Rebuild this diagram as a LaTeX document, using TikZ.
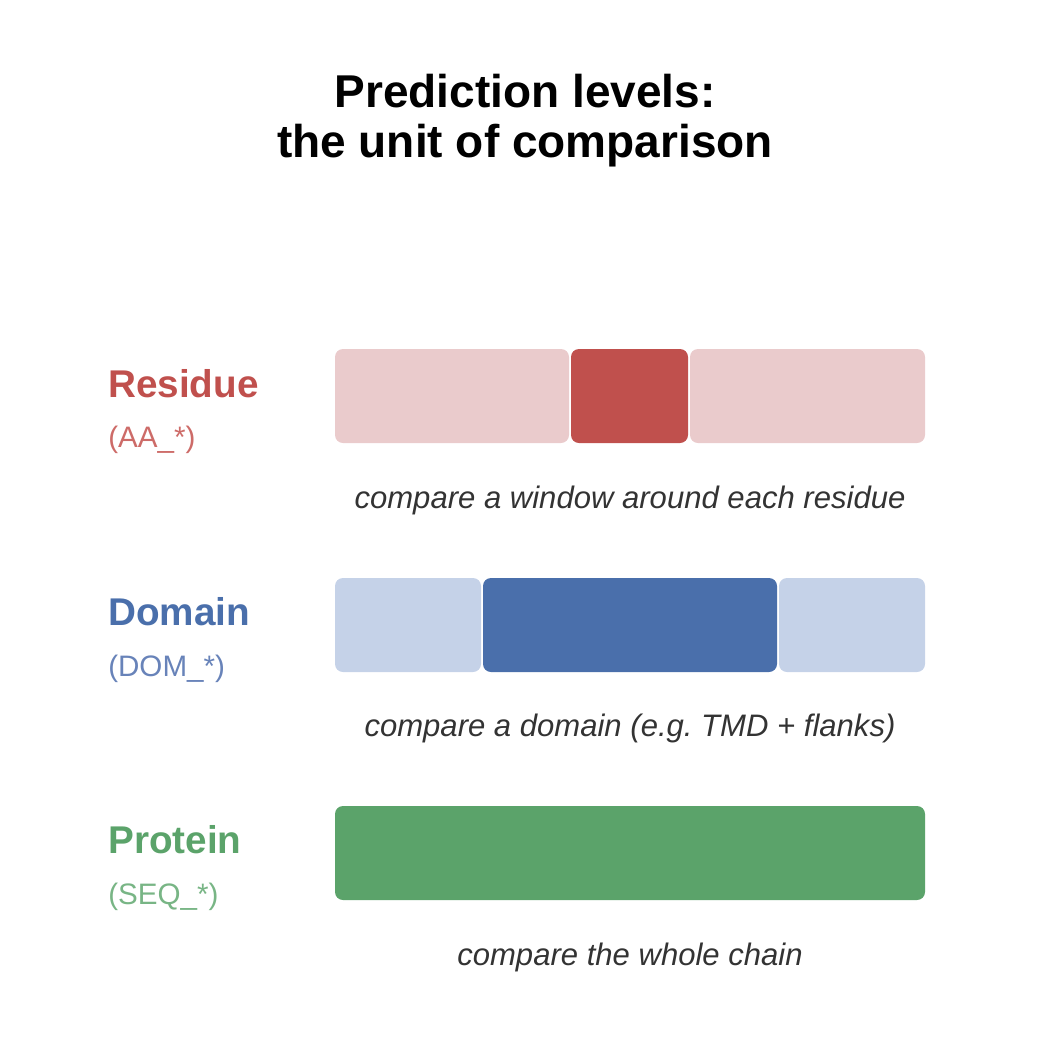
\documentclass[tikz,border=0pt]{standalone}
\usepackage{fontspec}
\setmainfont{Liberation Sans}
\usepackage{tikz}
\frenchspacing

\definecolor{resdark}{HTML}{C0504D}
\definecolor{reslight}{HTML}{EACBCC}
\definecolor{ressub}{HTML}{CD6B68}
\definecolor{domdark}{HTML}{4A6FAB}
\definecolor{domlight}{HTML}{C5D2E8}
\definecolor{domsub}{HTML}{6883B9}
\definecolor{seqdark}{HTML}{5BA36A}
\definecolor{seqsub}{HTML}{78B585}
\definecolor{captext}{HTML}{333333}

\tikzset{
  title/.style={font=\fontsize{34.5}{37.5}\selectfont\bfseries, align=center},
  level/.style={anchor=base west, inner sep=0pt, font=\fontsize{29}{34}\selectfont\bfseries},
  code/.style={anchor=base west, inner sep=0pt, font=\fontsize{22.2}{26}\selectfont},
  caption/.style={text=captext, font=\fontsize{23.3}{28}\selectfont\itshape},
  seg/.style={rounded corners=6pt}
}

\begin{document}
\begin{tikzpicture}[x=0.75pt,y=-0.75pt]
          \useasboundingbox (0,0) rectangle (1050,1050);
          \node[title] (head) at (525,121) {Prediction levels:\\the unit of comparison};
          % residue level
          \node[level, text=resdark] (resname) at (108,397) {Residue};
          \node[code, text=ressub] (rescode) at (108,447) {(AA\_*)};
          \fill[seg, reslight] (335,349) rectangle (569,443);
          \fill[seg, resdark] (571,349) rectangle (688,443);
          \fill[seg, reslight] (690,349) rectangle (925,443);
          \node[caption] (rescap) at (630,500) {compare a window around each residue};
          % domain level
          \node[level, text=domdark] (domname) at (108,625) {Domain};
          \node[code, text=domsub] (domcode) at (108,676) {(DOM\_*)};
          \fill[seg, domlight] (335,578) rectangle (481,672);
          \fill[seg, domdark] (483,578) rectangle (777,672);
          \fill[seg, domlight] (779,578) rectangle (925,672);
          \node[caption] (domcap) at (630,728) {compare a domain (e.g. TMD + flanks)};
          % protein level
          \node[level, text=seqdark] (seqname) at (108,853) {Protein};
          \node[code, text=seqsub] (seqcode) at (108,904) {(SEQ\_*)};
          \fill[seg, seqdark] (335,806) rectangle (925,900);
          \node[caption] (seqcap) at (630,957) {compare the whole chain};
        \end{tikzpicture}
\end{document}
